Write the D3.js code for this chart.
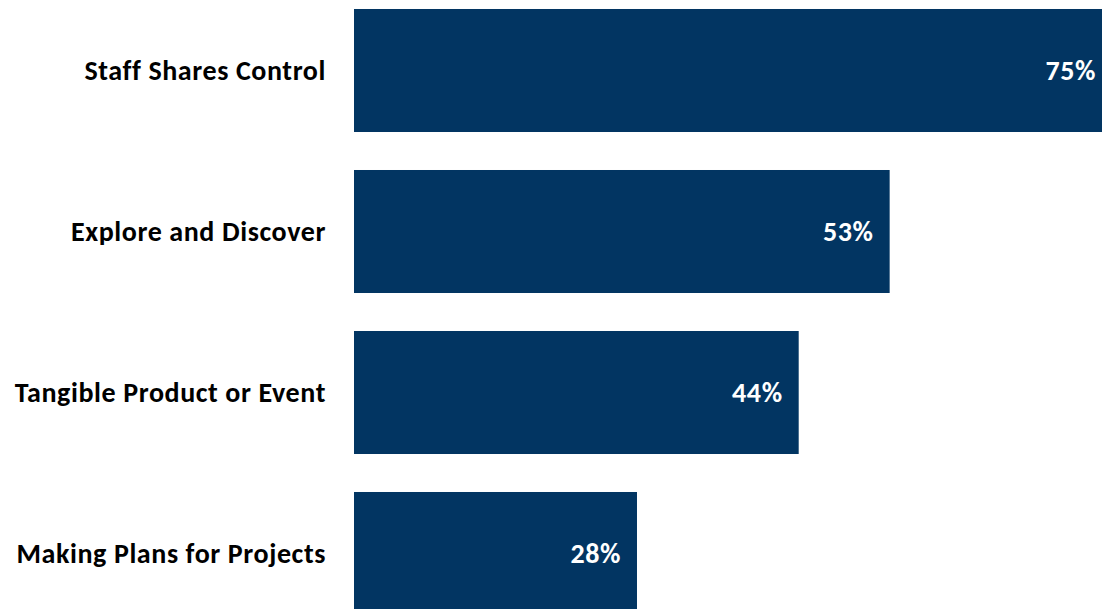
<!DOCTYPE html>
<html>
<head>
<meta charset="utf-8">
<script src="https://cdn.jsdelivr.net/npm/d3@7"></script>
<style>
  html, body { margin: 0; padding: 0; background: #fff; }
  svg { display: block; }
  text { font-family: Carlito, Calibri, Lato, "Open Sans", sans-serif; font-weight: 700; }
</style>
</head>
<body>
<svg id="chart" width="1102" height="609"></svg>
<script>
const categories = [
  "Staff Shares Control",
  "Explore and Discover",
  "Tangible Product or Event",
  "Making Plans for Projects"
];
const values = [75, 53, 44, 28];

const width = 1102, height = 609;
const svg = d3.select("#chart");

const x = d3.scaleLinear().domain([0, 75]).range([354, 1112]);
const y = d3.scaleBand()
  .domain(categories)
  .range([-10, 634])
  .paddingInner(0.236)
  .paddingOuter(0.118);

const rows = categories.map((c, i) => ({ cat: c, val: values[i] }));

svg.selectAll("rect.bar")
  .data(rows)
  .join("rect")
  .attr("class", "bar")
  .attr("x", x(0))
  .attr("y", d => y(d.cat))
  .attr("width", d => x(d.val) - x(0))
  .attr("height", y.bandwidth())
  .attr("fill", "#023562");

// category labels, right-aligned against the bars
svg.selectAll("text.cat")
  .data(rows)
  .join("text")
  .attr("class", "cat")
  .attr("x", 326)
  .attr("y", d => y(d.cat) + y.bandwidth() / 2)
  .attr("text-anchor", "end")
  .attr("dominant-baseline", "central")
  .attr("font-size", 28)
  .attr("letter-spacing", 0.6)
  .attr("fill", "#000")
  .text(d => d.cat);

// value labels inside bar ends
svg.selectAll("text.val")
  .data(rows)
  .join("text")
  .attr("class", "val")
  .attr("x", d => x(d.val) - 16)
  .attr("y", d => y(d.cat) + y.bandwidth() / 2)
  .attr("text-anchor", "end")
  .attr("dominant-baseline", "central")
  .attr("font-size", 28)
  .attr("letter-spacing", 0.6)
  .attr("fill", "#fff")
  .text(d => d.val + "%");
</script>
</body>
</html>
